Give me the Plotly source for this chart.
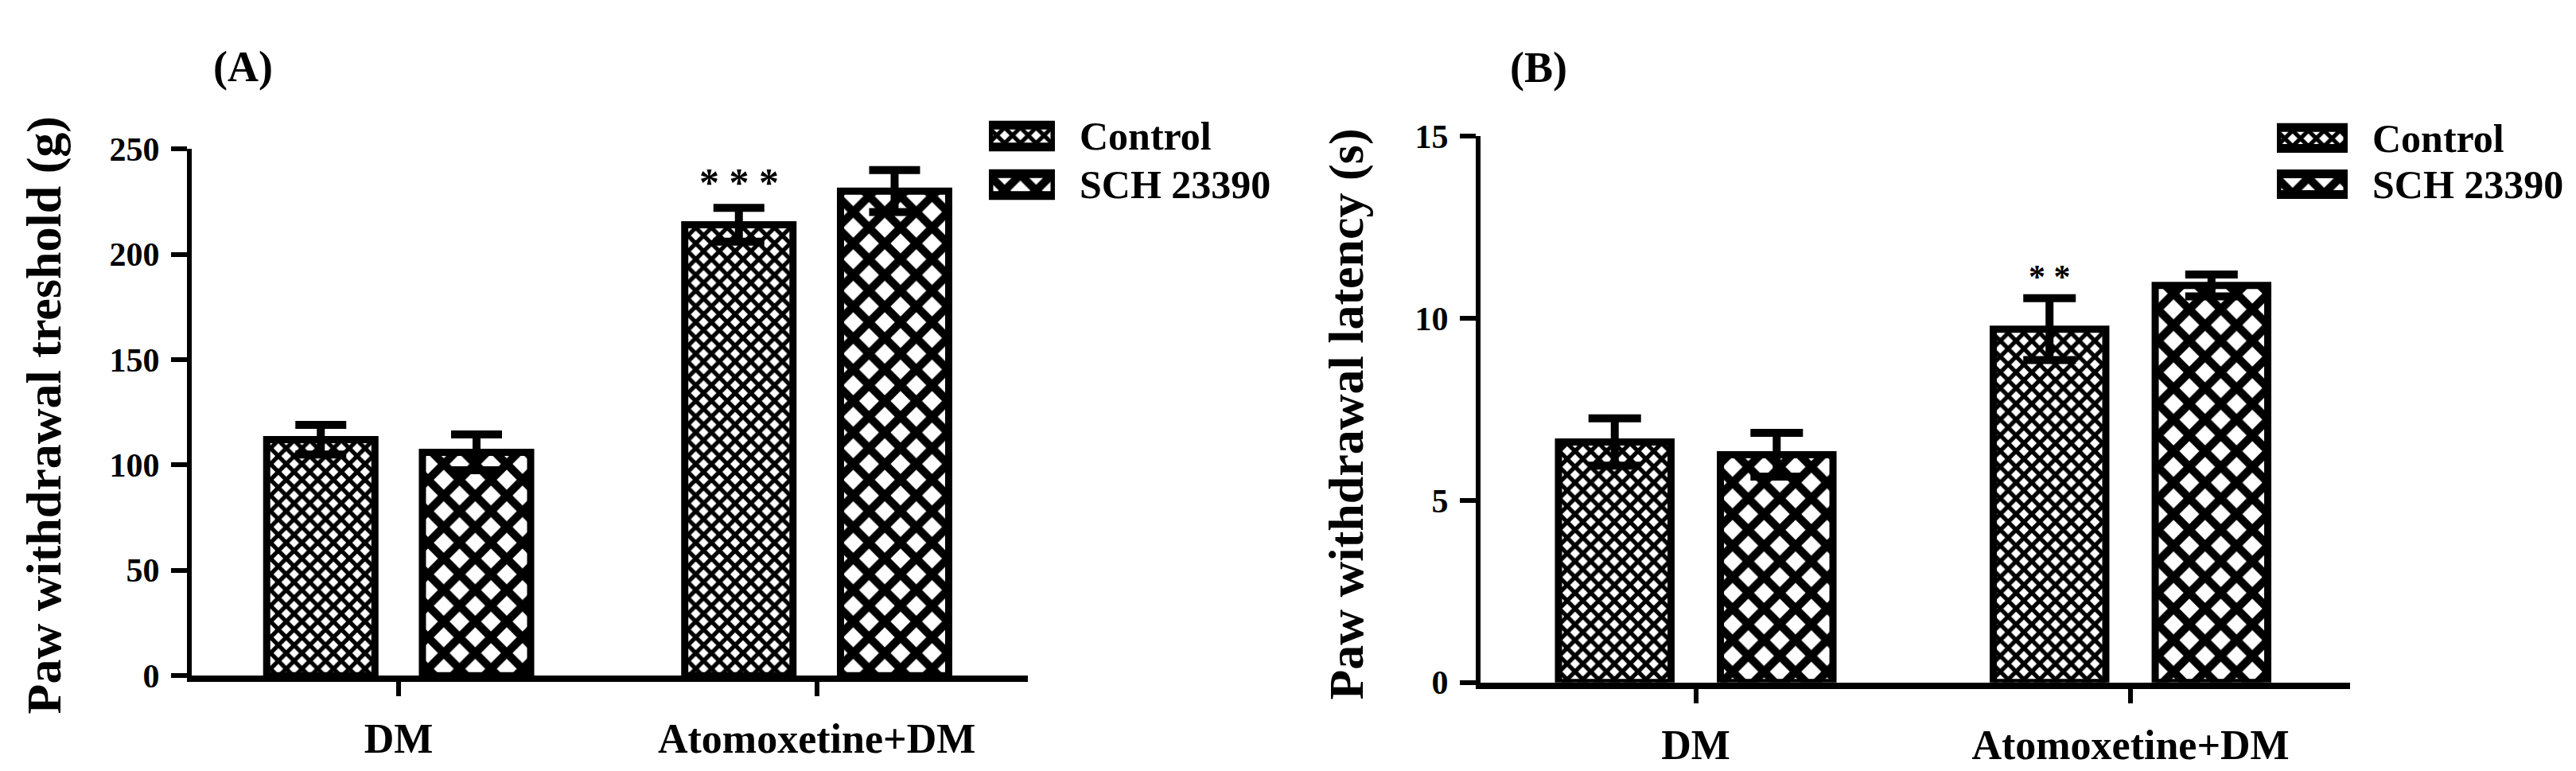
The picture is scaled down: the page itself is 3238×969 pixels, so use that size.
import plotly.graph_objects as go

# figure size (px) of the reference
W, H = 3238, 969

GROUPS = ["DM", "Atomoxetine+DM"]
SERIES = ["Control", "SCH 23390"]
PANEL_LABELS = ["(A)", "(B)"]
Y_TITLES = ["Paw withdrawal treshold (g)", "Paw withdrawal latency (s)"]

# panel A - paw withdrawal treshold (g)
a_control = [112, 214]
a_control_err = [7, 8]
a_sch = [106, 230]
a_sch_err = [8.5, 10]
a_sig = ["", "* * *"]
a_ticks = [0, 50, 100, 150, 200, 250]

# panel B - paw withdrawal latency (s)
b_control = [6.6, 9.7]
b_control_err = [0.65, 0.85]
b_sch = [6.25, 10.9]
b_sch_err = [0.6, 0.3]
b_sig = ["", "* *"]
b_ticks = [0, 5, 10, 15]

swatch_len = [1, 1]   # legend swatches fill their little axis

FONT = "Liberation Serif"
BARGAP, GROUPGAP = 0.255, 0.305
XRANGE = [-0.495, 1.505]


def px_x(p):
    return p / W


def px_y(p):
    return 1 - p / H


# checkerboard-ish fills: fine for Control, coarse for SCH 23390
patterns = {
    "Control": dict(shape="x", size=14, solidity=0.62, fgcolor="black",
                    bgcolor="white", fgopacity=1),
    "SCH 23390": dict(shape="x", size=28, solidity=0.6, fgcolor="black",
                      bgcolor="white", fgopacity=1),
}

panels = [
    dict(vals=[a_control, a_sch], errs=[a_control_err, a_sch_err], sig=a_sig,
         ticks=a_ticks, yr=[0, 250], xd=[233, 1284], yd=[860, 165], err_w=32,
         star_size=50, leg_x=[1235, 1318], leg_y=[116, 244],
         label_xy=(297, 57), title_xy=(47, 517)),
    dict(vals=[b_control, b_sch], errs=[b_control_err, b_sch_err], sig=b_sig,
         ticks=b_ticks, yr=[0, 15], xd=[1853, 2946], yd=[869, 148], err_w=33,
         star_size=42, leg_x=[2854, 2943], leg_y=[120, 242],
         label_xy=(1926, 58), title_xy=(1685, 515)),
]

fig = go.Figure()
layout = {}
annotations = []

for i, p in enumerate(panels):
    n = 2 * i + 1          # main subplot axis number
    m = 2 * i + 2          # legend subplot axis number
    xa, ya = ("x", "y") if n == 1 else (f"x{n}", f"y{n}")
    xl, yl = f"x{m}", f"y{m}"

    for s, name in enumerate(SERIES):
        fig.add_trace(go.Bar(
            x=GROUPS, y=p["vals"][s], name=name, showlegend=False,
            xaxis=xa, yaxis=ya,
            marker=dict(color="white", line=dict(color="black", width=9),
                        pattern=patterns[name]),
            error_y=dict(type="data", array=p["errs"][s], color="black",
                         thickness=10, width=p["err_w"]),
        ))

    # swatches of the legend, drawn as bars in their own tiny axis
    fig.add_trace(go.Bar(
        y=SERIES, x=swatch_len, orientation="h", width=0.45, showlegend=False,
        xaxis=xl, yaxis=yl, hoverinfo="skip",
        marker=dict(color="white", line=dict(color="black", width=11),
                    pattern=dict(shape=[patterns[k]["shape"] for k in SERIES],
                                 size=[patterns[k]["size"] for k in SERIES],
                                 solidity=0.6, fgcolor="black", bgcolor="white",
                                 fgopacity=1)),
    ))

    xkey = "xaxis" if n == 1 else f"xaxis{n}"
    ykey = "yaxis" if n == 1 else f"yaxis{n}"
    layout[xkey] = dict(
        domain=[px_x(p["xd"][0]), px_x(p["xd"][1])], anchor=ya,
        type="category", categoryorder="array", categoryarray=GROUPS,
        range=XRANGE, showline=True, linewidth=8, linecolor="black",
        ticks="outside", ticklen=18, tickwidth=6, tickcolor="black",
        ticklabelstandoff=8, showgrid=False, zeroline=False,
        tickfont=dict(family=FONT, size=52, color="black", weight="bold"),
    )
    layout[ykey] = dict(
        domain=[px_y(p["yd"][0]), px_y(p["yd"][1])], anchor=xa,
        range=p["yr"], tickvals=p["ticks"], showline=True, linewidth=6,
        linecolor="black", ticks="outside", ticklen=20, tickwidth=6,
        tickcolor="black", ticklabelstandoff=6, showgrid=False, zeroline=False,
        tickfont=dict(family=FONT, size=42, color="black", weight="bold"),
    )
    layout[f"xaxis{m}"] = dict(
        domain=[px_x(p["leg_x"][0]), px_x(p["leg_x"][1])], anchor=yl,
        range=[0, 1], visible=False, fixedrange=True,
    )
    layout[f"yaxis{m}"] = dict(
        domain=[px_y(p["leg_y"][1]), px_y(p["leg_y"][0])], anchor=xl,
        type="category", autorange="reversed", side="right", ticks="",
        tickmode="array", tickvals=SERIES, ticktext=SERIES,
        showline=False, showgrid=False, zeroline=False, ticklabelstandoff=30,
        tickfont=dict(family=FONT, size=50, color="black", weight="bold"),
        fixedrange=True,
    )

    # panel letter and y title
    annotations.append(dict(
        text=PANEL_LABELS[i], xref="paper", yref="paper",
        x=px_x(p["label_xy"][0]), y=px_y(p["label_xy"][1]),
        xanchor="center", yanchor="middle", showarrow=False,
        font=dict(family=FONT, size=54, color="black", weight="bold"),
    ))
    annotations.append(dict(
        text=Y_TITLES[i], xref="paper", yref="paper", textangle=-90,
        x=px_x(p["title_xy"][0]), y=px_y(p["title_xy"][1]),
        xanchor="center", yanchor="middle", showarrow=False,
        font=dict(family=FONT, size=62, color="black", weight="bold"),
    ))

    # significance stars above the Control bars
    unit_px = (p["xd"][1] - p["xd"][0]) / (XRANGE[1] - XRANGE[0])
    shift = -(1 - BARGAP) / 4 * unit_px
    for g, star in enumerate(p["sig"]):
        if not star:
            continue
        annotations.append(dict(
            text=star, xref=xa, yref=ya, x=GROUPS[g],
            y=p["vals"][0][g] + p["errs"][0][g],
            xshift=shift, yshift=2, xanchor="center", yanchor="bottom",
            showarrow=False,
            font=dict(family=FONT, size=p["star_size"], color="black",
                      weight="bold"),
        ))

fig.update_layout(
    width=W, height=H,
    margin=dict(l=0, r=0, t=0, b=0),
    paper_bgcolor="white", plot_bgcolor="white",
    barmode="group", bargap=BARGAP, bargroupgap=GROUPGAP,
    annotations=annotations,
    showlegend=False,
    **layout,
)

fig.write_html("out.html")
